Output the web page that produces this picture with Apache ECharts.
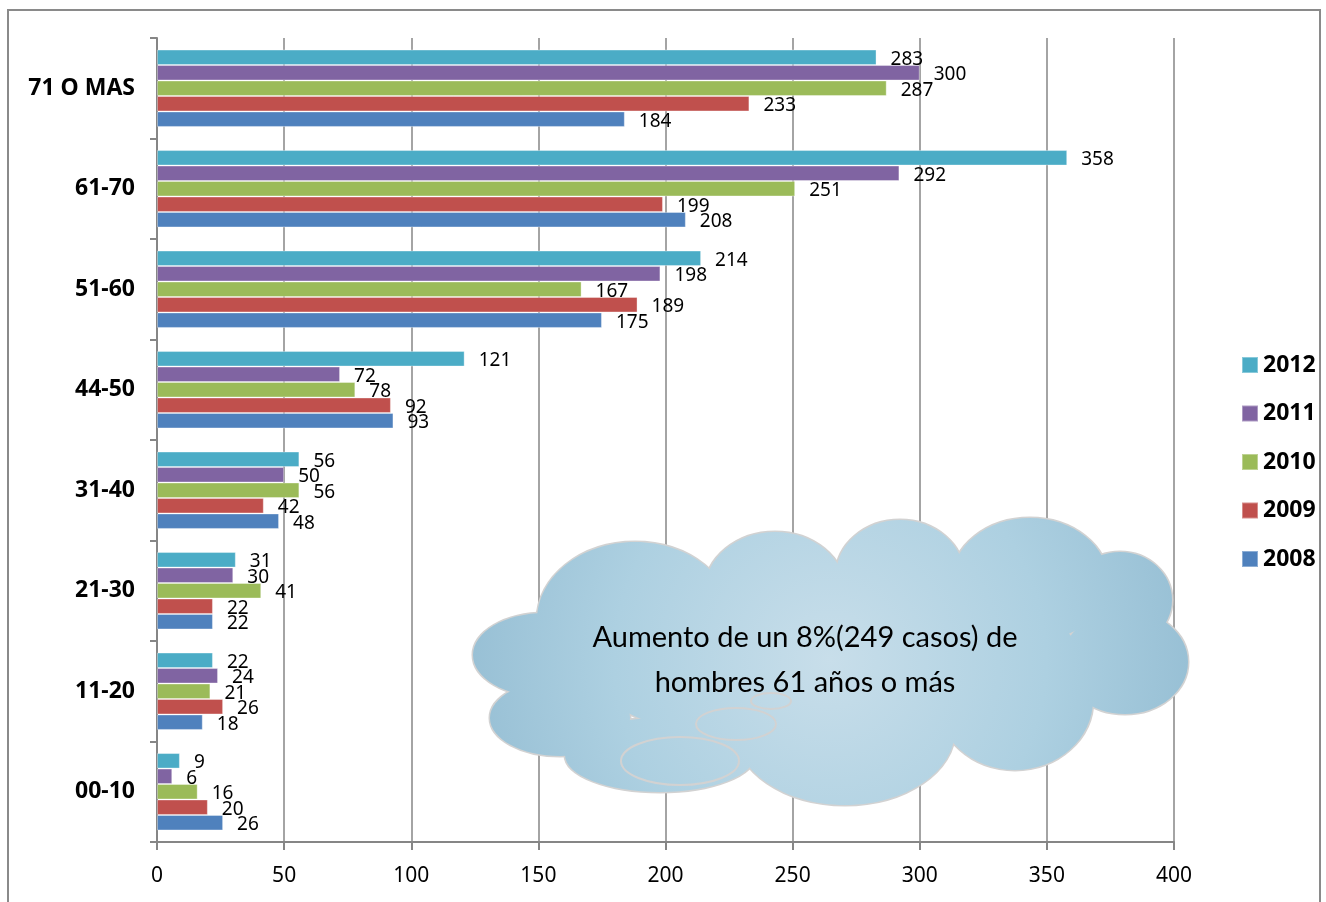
<!DOCTYPE html>
<html>
<head>
<meta charset="utf-8">
<script src="https://cdn.jsdelivr.net/npm/echarts@6/dist/echarts.min.js"></script>
<style>
html,body{margin:0;padding:0;background:#fff;}
#chart{width:1326px;height:902px;}
</style>
</head>
<body>
<div id="chart"></div>
<script>
const categories = ['00-10', '11-20', '21-30', '31-40', '44-50', '51-60', '61-70', '71 O MAS'];
const years = ['2012', '2011', '2010', '2009', '2008'];
const v2008 = [26, 18, 22, 48, 93, 175, 208, 184];
const v2009 = [20, 26, 22, 42, 92, 189, 199, 233];
const v2010 = [16, 21, 41, 56, 78, 167, 251, 287];
const v2011 = [6, 24, 30, 50, 72, 198, 292, 300];
const v2012 = [9, 22, 31, 56, 121, 214, 358, 283];
const xTicks = [0, 50, 100, 150, 200, 250, 300, 350, 400];
const legendOrder = ['2012', '2011', '2010', '2009', '2008'];
const noteLines = ['Aumento de un 8%(249 casos) de', 'hombres 61 años o más'];

const colors = {'2008': '#4F81BD', '2009': '#C0504D', '2010': '#9BBB59', '2011': '#8064A2', '2012': '#4BACC6'};
const values = {'2008': v2008, '2009': v2009, '2010': v2010, '2011': v2011, '2012': v2012};

const chart = echarts.init(document.getElementById('chart'));

// cloud shapes (decorative annotation)
const cloudParts = [
  [545, 655, 72, 42], [560, 718, 70, 38], [660, 755, 95, 37], [845, 730, 110, 75],
  [1015, 700, 78, 70], [1125, 662, 63, 52], [1120, 600, 52, 48], [1030, 580, 78, 62],
  [900, 575, 64, 55], [775, 590, 70, 58], [635, 620, 98, 78], [830, 660, 250, 90]
];
const cloudFill = new echarts.graphic.RadialGradient(830, 660, 360, [
  {offset: 0, color: '#c8deea'}, {offset: 0.6, color: '#add0e1'}, {offset: 1, color: '#98c0d5'}
], true);
const graphics = [];
graphics.push({type: 'rect', z: 1, silent: true, shape: {x: 8, y: 10, width: 1312, height: 905},
  style: {fill: 'none', stroke: '#8a8a8a', lineWidth: 2}});
cloudParts.forEach(p => graphics.push({type: 'ellipse', z: 100, silent: true,
  shape: {cx: p[0], cy: p[1], rx: p[2], ry: p[3]}, style: {fill: cloudFill, stroke: '#d2d2d2', lineWidth: 3}}));
cloudParts.forEach(p => graphics.push({type: 'ellipse', z: 101, silent: true,
  shape: {cx: p[0], cy: p[1], rx: p[2], ry: p[3]}, style: {fill: cloudFill}}));
[[771, 701, 20, 8], [736, 724, 40, 16], [680, 761, 59, 24]].forEach(p => graphics.push({type: 'ellipse', z: 102, silent: true,
  shape: {cx: p[0], cy: p[1], rx: p[2], ry: p[3]}, style: {fill: 'none', stroke: '#d2d2d2', lineWidth: 2}}));
graphics.push({type: 'text', z: 103, silent: true, x: 805, y: 660,
  style: {text: noteLines.join('\n'), fill: '#000', font: '29px Lato', align: 'center', verticalAlign: 'middle', lineHeight: 45}});

const series = years.map(y => ({
  name: y, type: 'bar', data: values[y],
  barGap: '0%', barCategoryGap: '23%',
  itemStyle: {color: colors[y], borderColor: 'rgba(255,255,255,0.35)', borderWidth: 1},
  label: {show: true, position: 'right', distance: 14, color: '#000', fontSize: 19, fontFamily: 'Noto Sans', offset: [0, 2]}
}));

chart.setOption({
  animation: false,
  backgroundColor: '#fff',
  grid: {left: 157, right: 152, top: 38, bottom: 60, containLabel: false},
  legend: {
    data: legendOrder, orient: 'vertical', left: 1236, top: 348,
    icon: 'rect', itemWidth: 16, itemHeight: 16, itemGap: 24.5, itemTextGap: 6,
    textStyle: {fontSize: 23, fontWeight: 'bold', fontFamily: 'Noto Sans', color: '#000', lineHeight: 24}
  },
  xAxis: {
    type: 'value', min: xTicks[0], max: xTicks[xTicks.length - 1], interval: xTicks[1] - xTicks[0],
    axisLine: {show: true, lineStyle: {color: '#868686', width: 2}},
    axisTick: {show: true, length: 8, lineStyle: {color: '#868686', width: 2}},
    axisLabel: {fontSize: 21, fontFamily: 'Noto Sans', color: '#000', margin: 24},
    splitLine: {show: true, lineStyle: {color: '#868686', width: 1.5}}
  },
  yAxis: {
    type: 'category', data: categories,
    axisLine: {show: true, lineStyle: {color: '#868686', width: 2}},
    axisTick: {show: true, length: 7, lineStyle: {color: '#868686', width: 2}},
    axisLabel: {fontSize: 23, fontWeight: 'bold', fontFamily: 'Noto Sans', color: '#000', margin: 22, padding: [8, 0, 0, 0]},
    splitLine: {show: false}
  },
  series: series,
  graphic: graphics
});
</script>
</body>
</html>
